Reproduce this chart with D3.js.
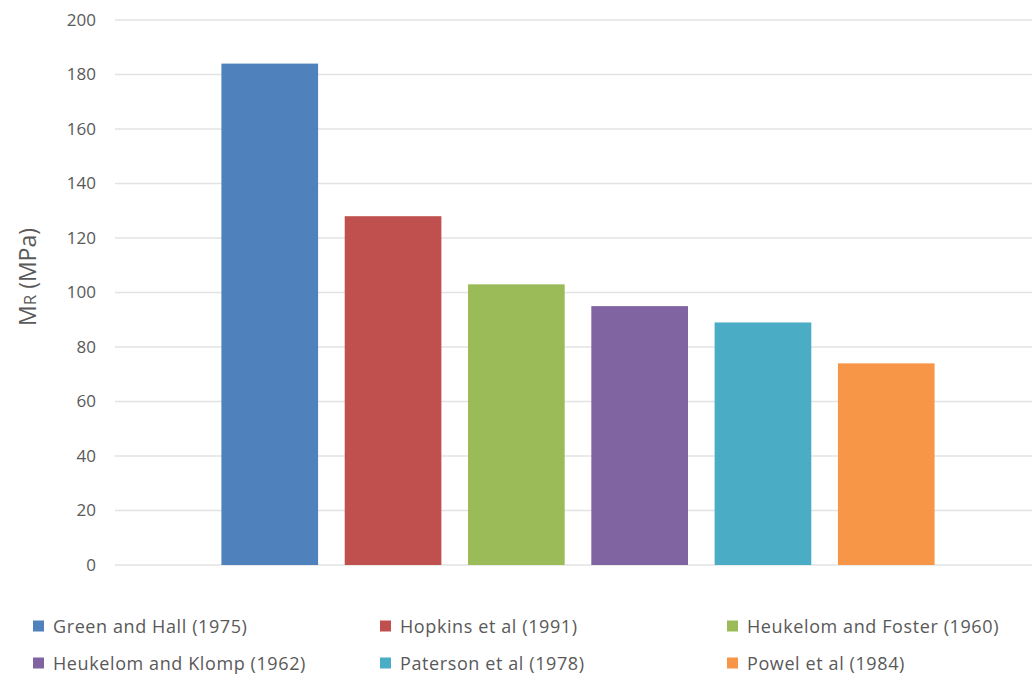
<!DOCTYPE html>
<html>
<head>
<meta charset="utf-8">
<script src="https://cdn.jsdelivr.net/npm/d3@7"></script>
<style>
  html, body { margin: 0; padding: 0; background: #fff; }
  svg { display: block; }
  text { font-family: "Open Sans", Lato, sans-serif; fill: #595959; }
</style>
</head>
<body>
<svg id="chart" width="1032" height="675"></svg>
<script>
// Resilient modulus estimates by study
const studies = [
  "Green and Hall (1975)",
  "Hopkins et al (1991)",
  "Heukelom and Foster (1960)",
  "Heukelom and Klomp (1962)",
  "Paterson et al (1978)",
  "Powel et al (1984)"
];
const modulus = [184, 128, 103, 95, 89, 74];
const colors = ["#4F81BD", "#C0504D", "#9BBB59", "#8064A2", "#4BACC6", "#F79646"];
const yTicks = [0, 20, 40, 60, 80, 100, 120, 140, 160, 180, 200];

const svg = d3.select("#chart");

const plot = { left: 115, right: 1041, top: 20, bottom: 565 };

const x = d3.scaleBand()
  .domain(studies)
  .range([plot.left, plot.right])
  .paddingInner(0.216)
  .paddingOuter(0.863);

const y = d3.scaleLinear()
  .domain([0, 200])
  .range([plot.bottom, plot.top]);

// Horizontal gridlines
svg.append("g")
  .selectAll("line")
  .data(yTicks)
  .join("line")
  .attr("x1", plot.left)
  .attr("x2", plot.right)
  .attr("y1", d => y(d))
  .attr("y2", d => y(d))
  .attr("stroke", "#e3e3e3")
  .attr("stroke-width", 1.5);

// Y axis labels
const yAxis = svg.append("g")
  .attr("transform", `translate(${plot.left},0)`)
  .call(d3.axisLeft(y).tickValues(yTicks).tickSize(0).tickPadding(19));
yAxis.select(".domain").remove();
yAxis.selectAll("text")
  .style("font-family", '"Open Sans", Lato, sans-serif')
  .style("font-size", "17px")
  .attr("fill", "#595959");

// Bars
svg.append("g")
  .selectAll("rect")
  .data(studies)
  .join("rect")
  .attr("x", d => x(d))
  .attr("width", x.bandwidth())
  .attr("y", (d, i) => y(modulus[i]))
  .attr("height", (d, i) => y(0) - y(modulus[i]))
  .attr("fill", (d, i) => colors[i]);

// Y axis title
const title = svg.append("text")
  .attr("transform", "translate(36,277) rotate(-90)")
  .attr("text-anchor", "middle")
  .style("font-size", "23px");
title.append("tspan").text("M");
title.append("tspan").style("font-size", "17px").text("R");
title.append("tspan").text(" (MPa)");

// Legend: three columns, two rows
const legendCols = [33, 380, 727];
const legendRows = [626, 663];
const legend = svg.append("g")
  .selectAll("g")
  .data(studies)
  .join("g")
  .attr("transform", (d, i) => `translate(${legendCols[i % 3]},${legendRows[Math.floor(i / 3)]})`);
legend.append("rect")
  .attr("x", 0)
  .attr("y", -5.5)
  .attr("width", 11)
  .attr("height", 11)
  .attr("fill", (d, i) => colors[i]);
legend.append("text")
  .attr("x", 20)
  .attr("y", 0)
  .attr("dominant-baseline", "central")
  .style("font-size", "18px")
  .style("letter-spacing", "0.6px")
  .text(d => d);
</script>
</body>
</html>
